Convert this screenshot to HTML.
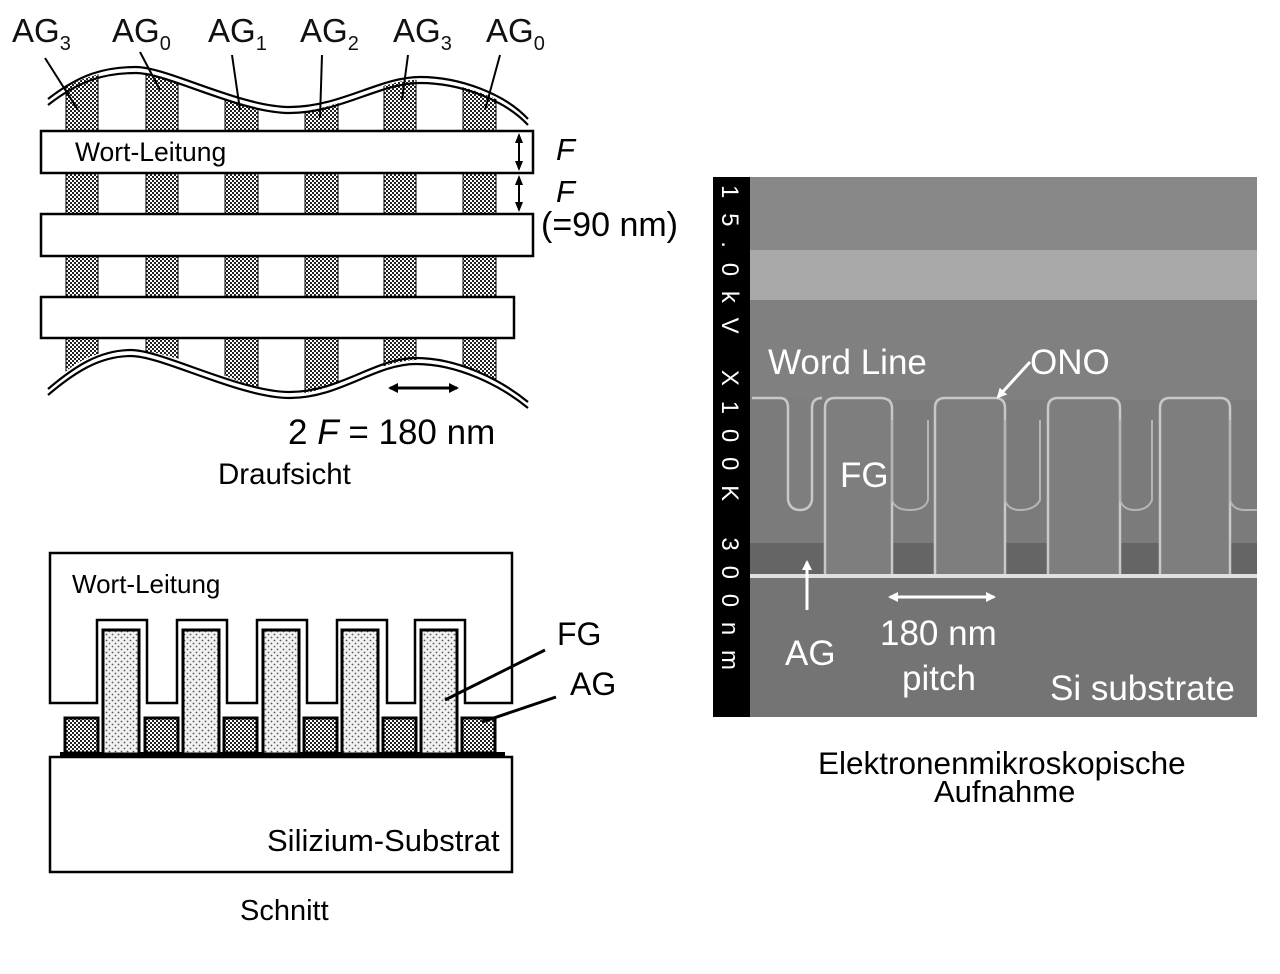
<!DOCTYPE html>
<html><head><meta charset="utf-8"><style>
html,body{margin:0;padding:0;background:#fff;width:1280px;height:974px;overflow:hidden}
svg{display:block}
text{font-family:"Liberation Sans",sans-serif}
</style></head><body>
<svg width="1280" height="974" viewBox="0 0 1280 974" xmlns="http://www.w3.org/2000/svg">
<defs>
<pattern id="chk" width="4" height="4" patternUnits="userSpaceOnUse">
<rect width="4" height="4" fill="#fff"/><rect width="2" height="2" fill="#222"/><rect x="2" y="2" width="2" height="2" fill="#222"/>
</pattern>
<pattern id="dot" width="6" height="6" patternUnits="userSpaceOnUse">
<rect width="6" height="6" fill="#f2f2f2"/><circle cx="1.5" cy="1.5" r="0.9" fill="#555"/><circle cx="4.5" cy="4.5" r="0.9" fill="#555"/>
</pattern>
<clipPath id="band"><path d="M40,106 C80,72 110,70 140,72 S240,112 290,112 S380,78 420,80 S510,100 540,126 L540,404 C500,380 460,358 416,360 S330,395 290,394 S180,350 131,350 S70,370 40,392 Z"/></clipPath>
<marker id="ahs" markerWidth="10" markerHeight="10" refX="8" refY="5" orient="auto-start-reverse" markerUnits="userSpaceOnUse"><path d="M0,0 L10,5 L0,10 Z" fill="#000"/></marker>
<marker id="ahsm" markerWidth="10" markerHeight="10" refX="8" refY="5" orient="auto-start-reverse" markerUnits="userSpaceOnUse"><path d="M0,1 L10,5 L0,9 Z" fill="#000"/></marker>
<marker id="ahw" markerWidth="10" markerHeight="10" refX="8" refY="5" orient="auto-start-reverse" markerUnits="userSpaceOnUse"><path d="M0,0 L10,5 L0,10 Z" fill="#fff"/></marker>
</defs>

<!-- TOP VIEW -->
<g clip-path="url(#band)">
<g fill="url(#chk)" stroke="#000" stroke-width="1">
<rect x="66" y="60" width="32" height="360"/>
<rect x="146" y="60" width="32" height="360"/>
<rect x="225" y="60" width="33" height="360"/>
<rect x="305" y="60" width="33" height="360"/>
<rect x="384" y="60" width="32" height="360"/>
<rect x="463" y="60" width="33" height="360"/>
</g>
</g>
<g fill="none" stroke="#000" stroke-width="2.2">
<path d="M48,105 C80,80 105,73 136,73 S240,113 290,113 S380,83 420,83 S505,100 528,125"/>
<path d="M48,99 C80,74 105,67 136,67 S240,107 290,107 S380,77 420,77 S505,94 528,119"/>
<path d="M48,395 C75,372 100,356 131,356 S240,398 290,398 S375,364 416,364 S500,385 528,408"/>
<path d="M48,389 C75,366 100,350 131,350 S240,392 290,392 S375,358 416,358 S500,379 528,402"/>
</g>
<g fill="#fff" stroke="#000" stroke-width="2.5">
<rect x="41" y="131" width="492" height="42"/>
<rect x="41" y="214" width="492" height="42"/>
<rect x="41" y="297" width="473" height="41"/>
</g>
<text x="75" y="161" font-size="26.5">Wort-Leitung</text>
<g font-size="33" fill="#111">
<text x="12" y="42">AG<tspan font-size="20" dy="8">3</tspan></text>
<text x="112" y="42">AG<tspan font-size="20" dy="8">0</tspan></text>
<text x="208" y="42">AG<tspan font-size="20" dy="8">1</tspan></text>
<text x="300" y="42">AG<tspan font-size="20" dy="8">2</tspan></text>
<text x="393" y="42">AG<tspan font-size="20" dy="8">3</tspan></text>
<text x="486" y="42">AG<tspan font-size="20" dy="8">0</tspan></text>
</g>
<g stroke="#000" stroke-width="2">
<line x1="45" y1="58" x2="78" y2="110"/>
<line x1="140" y1="52" x2="160" y2="90"/>
<line x1="232" y1="55" x2="240" y2="110"/>
<line x1="322" y1="55" x2="320" y2="118"/>
<line x1="408" y1="55" x2="402" y2="100"/>
<line x1="500" y1="55" x2="485" y2="110"/>
</g>
<g stroke="#000" stroke-width="2">
<line x1="519" y1="135" x2="519" y2="169" marker-start="url(#ahsm)" marker-end="url(#ahsm)"/>
<line x1="519" y1="177" x2="519" y2="210" marker-start="url(#ahsm)" marker-end="url(#ahsm)"/>
<line x1="390" y1="388" x2="457" y2="388" marker-start="url(#ahs)" marker-end="url(#ahs)" stroke-width="3"/>
</g>
<text x="556" y="160" font-size="31" font-style="italic">F</text>
<text x="556" y="202" font-size="31" font-style="italic">F</text>
<text x="541" y="236" font-size="34">(=90 nm)</text>
<text x="288" y="444" font-size="35">2 <tspan font-style="italic">F</tspan> = 180 nm</text>
<text x="218" y="484" font-size="29.5">Draufsicht</text>

<!-- CROSS SECTION -->
<rect x="50" y="757" width="462" height="115" fill="#fff" stroke="#000" stroke-width="2.5"/>
<text x="267" y="851" font-size="31">Silizium-Substrat</text>
<rect x="60" y="752" width="445" height="6" fill="#000"/>
<path d="M50,553 H512 V703 H465 V620 H415 V703 H387 V620 H337 V703 H307 V620 H257 V703 H227 V620 H177 V703 H147 V620 H97 V703 H50 Z" fill="#fff" stroke="#000" stroke-width="2.5"/>
<text x="72" y="593" font-size="26">Wort-Leitung</text>
<g fill="url(#dot)" stroke="#000" stroke-width="3">
<rect x="103" y="630" width="36" height="124"/>
<rect x="183" y="630" width="36" height="124"/>
<rect x="263" y="630" width="36" height="124"/>
<rect x="342" y="630" width="36" height="124"/>
<rect x="421" y="630" width="36" height="124"/>
</g>
<g fill="url(#chk)" stroke="#000" stroke-width="3">
<rect x="65" y="718" width="33" height="35"/>
<rect x="145" y="718" width="33" height="35"/>
<rect x="224" y="718" width="33" height="35"/>
<rect x="304" y="718" width="33" height="35"/>
<rect x="383" y="718" width="33" height="35"/>
<rect x="462" y="718" width="33" height="35"/>
</g>
<g stroke="#000" stroke-width="3">
<line x1="445" y1="700" x2="545" y2="650"/>
<line x1="482" y1="722" x2="556" y2="697"/>
</g>
<text x="557" y="645" font-size="32">FG</text>
<text x="570" y="695" font-size="32">AG</text>
<text x="240" y="920" font-size="29">Schnitt</text>

<!-- SEM -->
<rect x="713" y="177" width="544" height="540" fill="#7b7b7b"/>
<rect x="750" y="177" width="507" height="80" fill="#888"/>
<rect x="750" y="250" width="507" height="50" fill="#a9a9a9"/>
<rect x="750" y="300" width="507" height="100" fill="#808080"/>
<rect x="750" y="576" width="507" height="141" fill="#747474"/>
<rect x="750" y="543" width="507" height="33" fill="#656565"/>
<g fill="#7e7e7e" stroke="#c8c8c8" stroke-width="2.5">
<path d="M752,398 H780 Q788,398 788,408 V500 Q790,510 800,510 Q810,510 812,500 V408 Q812,398 822,398"/>
<path d="M825,577 V408 Q825,398 835,398 H880 Q892,398 892,408 V577"/>
<path d="M935,577 V408 Q935,398 945,398 H995 Q1005,398 1005,408 V577"/>
<path d="M1048,577 V408 Q1048,398 1058,398 H1110 Q1120,398 1120,408 V577"/>
<path d="M1160,577 V408 Q1160,398 1170,398 H1220 Q1230,398 1230,408 V577"/>
</g>
<g fill="none" stroke="#b5b5b5" stroke-width="2">
<path d="M892,420 V500 Q895,510 910,510 Q925,510 928,500 V420"/>
<path d="M1005,420 V500 Q1008,510 1020,510 Q1035,510 1040,500 V420"/>
<path d="M1120,420 V500 Q1123,510 1135,510 Q1148,510 1152,500 V420"/>
<path d="M1230,420 V500 Q1233,510 1245,510 L1257,510"/>
</g>
<line x1="750" y1="576" x2="1257" y2="576" stroke="#e0e0e0" stroke-width="4"/>
<rect x="713" y="177" width="37" height="540" fill="#000"/>
<text transform="translate(722,185) rotate(90)" font-family="Liberation Mono,monospace" font-size="24" fill="#fff" textLength="485" lengthAdjust="spacing">15.0kV X100K 300nm</text>
<g fill="#fff" font-size="35">
<text x="768" y="374">Word Line</text>
<text x="1030" y="374">ONO</text>
<text x="840" y="487">FG</text>
<text x="785" y="665">AG</text>
<text x="880" y="645">180 nm</text>
<text x="902" y="690">pitch</text>
<text x="1050" y="700">Si substrate</text>
</g>
<g stroke="#fff" stroke-width="3">
<line x1="1030" y1="362" x2="998" y2="397" marker-end="url(#ahw)"/>
<line x1="807" y1="610" x2="807" y2="562" marker-end="url(#ahw)"/>
<line x1="890" y1="597" x2="994" y2="597" marker-start="url(#ahw)" marker-end="url(#ahw)"/>
</g>
<text x="818" y="774" font-size="31.5">Elektronenmikroskopische</text>
<text x="934" y="802" font-size="31">Aufnahme</text>
</svg>
</body></html>
